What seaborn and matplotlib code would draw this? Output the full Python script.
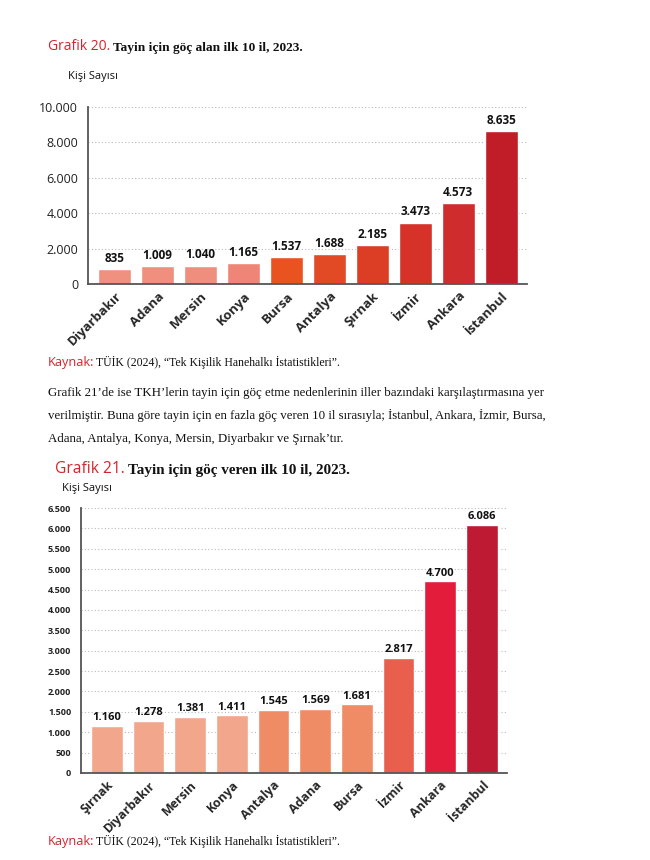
import matplotlib
matplotlib.use("Agg")
import matplotlib.pyplot as plt
import seaborn as sns
import pandas as pd

# Grafik 20 - tayin için göç alan iller
cities_in = ["Diyarbakır", "Adana", "Mersin", "Konya", "Bursa", "Antalya",
             "Şırnak", "İzmir", "Ankara", "İstanbul"]
values_in = [835, 1009, 1040, 1165, 1537, 1688, 2185, 3473, 4573, 8635]
colors_in = ["#F0917F", "#F08F7E", "#F08E7D", "#EE8577", "#E8531F", "#E24A26",
             "#DB3D25", "#D5322A", "#CF2C2D", "#C01D28"]
yticks_in = [0, 2000, 4000, 6000, 8000, 10000]

# Grafik 21 - tayin için göç veren iller
cities_out = ["Şırnak", "Diyarbakır", "Mersin", "Konya", "Antalya", "Adana",
              "Bursa", "İzmir", "Ankara", "İstanbul"]
values_out = [1160, 1278, 1381, 1411, 1545, 1569, 1681, 2817, 4700, 6086]
colors_out = ["#F2A68C", "#F2A68C", "#F2A68C", "#F2A68C", "#EF8C66", "#EF8C66",
              "#EF8C66", "#E8604D", "#E31C3B", "#BE1A33"]
yticks_out = list(range(0, 6501, 500))

SANS = ["Open Sans", "DejaVu Sans"]
SERIF = ["Liberation Serif", "DejaVu Serif"]
RED = "#D7232C"
W, H = 650, 860


def fmt(v):
    return f"{v:,}".replace(",", ".")


def px_axes(fig, left, top, right, bottom):
    return fig.add_axes([left / W, 1 - bottom / H, (right - left) / W, (bottom - top) / H])


def bar_chart(ax, cities, values, colors, yticks, tick_size, tick_weight,
              val_size, cat_size, pad):
    df = pd.DataFrame({"il": cities, "kisi": values})
    sns.barplot(data=df, x="il", y="kisi", hue="il", order=cities,
                palette=dict(zip(cities, colors)), width=0.76, saturation=1,
                legend=False, ax=ax)
    ax.set_ylim(0, yticks[-1])
    ax.set_xlim(-0.62, len(cities) - 0.4)
    ax.set_yticks(yticks)
    ax.set_yticklabels([fmt(t) for t in yticks], fontsize=tick_size,
                       fontweight=tick_weight, family=SANS, color="#222222")
    ax.set_xticks(range(len(cities)))
    ax.set_xticklabels(cities, rotation=45, ha="right", rotation_mode="anchor",
                       fontsize=cat_size, fontweight="bold", family=SANS)
    ax.tick_params(axis="x", length=0, pad=4)
    ax.tick_params(axis="y", length=4, width=1, color="#555555", pad=3)
    ax.set_xlabel("")
    ax.set_ylabel("")
    ax.yaxis.grid(True, linestyle=(0, (1, 2)), color="#BBBBBB", linewidth=0.8)
    ax.set_axisbelow(True)
    for s in ["top", "right"]:
        ax.spines[s].set_visible(False)
    for s in ["left", "bottom"]:
        ax.spines[s].set_color("#555555")
        ax.spines[s].set_linewidth(1.3)
    for i, v in enumerate(values):
        ax.annotate(fmt(v), (i, v), xytext=(0, pad), textcoords="offset points",
                    ha="center", va="bottom", fontsize=val_size,
                    fontweight="bold", family=SANS, color="#111111")


def title(fig, x, y, red, rest, red_size, rest_size, rest_bold=True, gap=3):
    t = fig.text(x / W, 1 - y / H, red, color=RED, fontsize=red_size,
                 family=SANS, va="baseline")
    ax0 = fig.axes[0]
    ax0.annotate(rest, xy=(1, 0), xycoords=t, xytext=(gap, 0),
                 textcoords="offset points", va="bottom", ha="left",
                 fontsize=rest_size, family=SERIF,
                 fontweight="bold" if rest_bold else "normal",
                 annotation_clip=False, color="#111111")


fig = plt.figure(figsize=(W / 100, H / 100), dpi=100)
sns.set_style("white")

ax1 = px_axes(fig, 88, 107, 527, 284)
bar_chart(ax1, cities_in, values_in, colors_in, yticks_in, 9, "normal", 8.5, 9.5, 3)

ax2 = px_axes(fig, 81, 508, 507, 773)
bar_chart(ax2, cities_out, values_out, colors_out, yticks_out, 6.5, "bold", 8, 9, 2)

title(fig, 48, 50, "Grafik 20.", "Tayin için göç alan ilk 10 il, 2023.", 10, 9.6, gap=2)
fig.text(68 / W, 1 - 76 / H, "Kişi Sayısı", fontsize=8, family=SANS,
         va="center", color="#111111")

title(fig, 48, 366, "Kaynak:", "TÜİK (2024), “Tek Kişilik Hanehalkı İstatistikleri”.",
      9.2, 8.5, rest_bold=False, gap=1.5)

para = ["Grafik 21’de ise TKH’lerin tayin için göç etme nedenlerinin iller bazındaki karşılaştırmasına yer",
        "verilmiştir. Buna göre tayin için en fazla göç veren 10 il sırasıyla; İstanbul, Ankara, İzmir, Bursa,",
        "Adana, Antalya, Konya, Mersin, Diyarbakır ve Şırnak’tır."]
for k, line in enumerate(para):
    fig.text(48 / W, 1 - (396 + 23 * k) / H, line, fontsize=9.3, family=SERIF,
             va="baseline", color="#111111")

title(fig, 55, 473, "Grafik 21.", "Tayin için göç veren ilk 10 il, 2023.", 11.2, 10.9, gap=2)
fig.text(62 / W, 1 - 489 / H, "Kişi Sayısı", fontsize=8, family=SANS,
         va="center", color="#111111")

title(fig, 48, 845, "Kaynak:", "TÜİK (2024), “Tek Kişilik Hanehalkı İstatistikleri”.",
      9.2, 8.5, rest_bold=False, gap=1.5)

fig.savefig("out.png", dpi=100)
